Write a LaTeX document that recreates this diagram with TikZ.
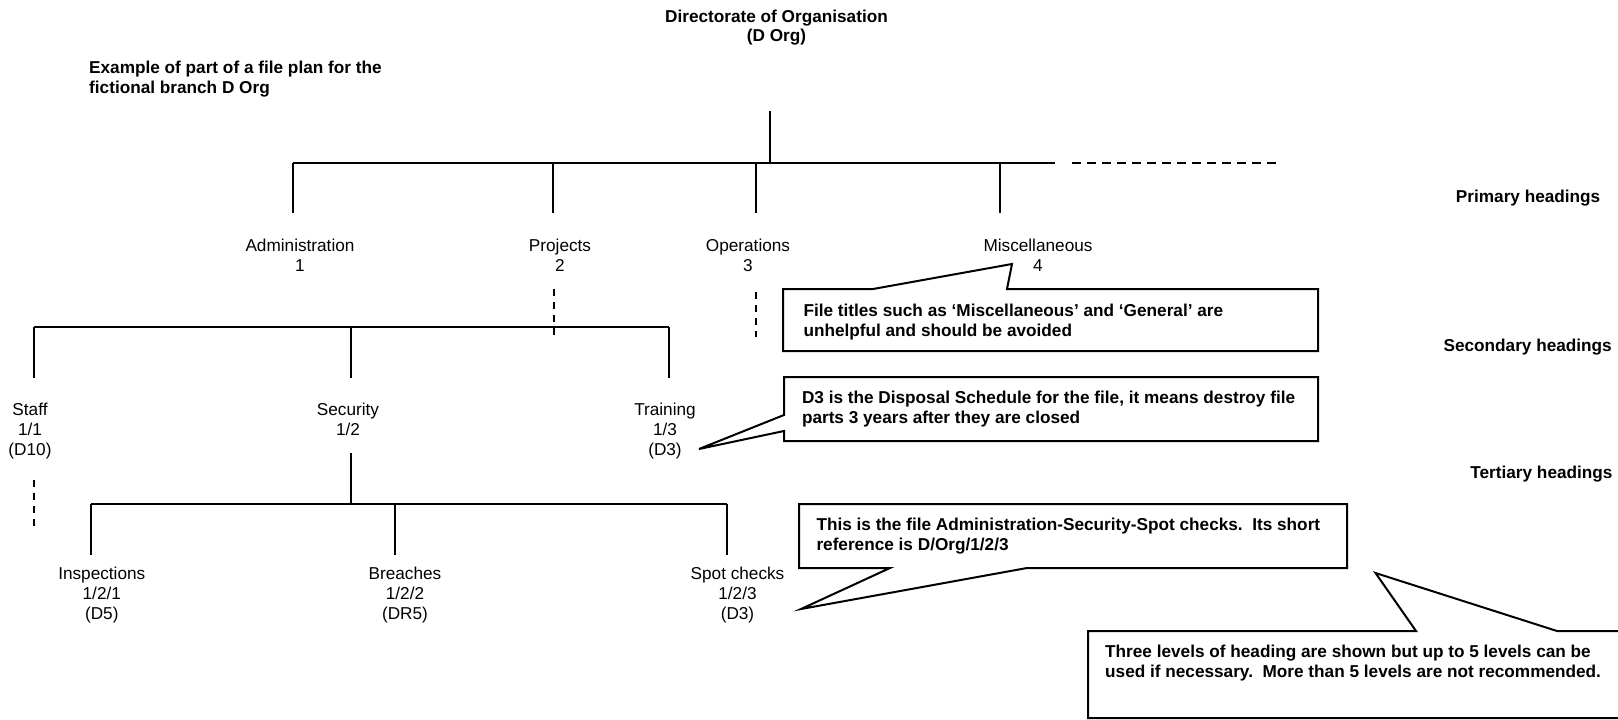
\documentclass[tikz,border=0pt]{standalone}
\usepackage{fontspec}
\setmainfont{Liberation Sans}
\newcommand\fs{\fontsize{17.2}{20}\selectfont}
\newcommand\txtblock[2]{\begin{tabular}[t]{@{}#1@{}}#2\end{tabular}}
\tikzset{
  tree/.style={line width=2pt},
  hdash/.style={line width=2pt, dash pattern=on 9pt off 6pt},
  vdash/.style={line width=2pt, dash pattern=on 6.5pt off 6.5pt},
  lbl/.style={inner sep=0pt, anchor=base, font=\fs},
  note/.style={inner sep=0pt, anchor=base west, font=\fs\bfseries},
  levelname/.style={inner sep=0pt, anchor=base east, font=\fs\bfseries},
  callout/.style={draw, line width=2pt, fill=white, line join=miter},
}
\begin{document}
\begin{tikzpicture}[x=1pt, y=-1pt]
\useasboundingbox (0,0) rectangle (1618,720);
\clip (0,0) rectangle (1618,720);

% ---------- headings ----------
\node[lbl, font=\fs\bfseries] (root) at (776.5,22) {\txtblock{c}{Directorate of Organisation\\(D Org)}};
\node[note] (intro) at (89,73.7) {\txtblock{l}{Example of part of a file plan for the\\fictional branch D Org}};

\node[levelname] (lvl1) at (1600.5,202) {Primary headings};
\node[levelname] (lvl2) at (1612,351.7) {Secondary headings};
\node[levelname] (lvl3) at (1612.7,478) {Tertiary headings};

% ---------- primary level ----------
\coordinate (rootstem) at (770,111);
\coordinate (bar1) at (770,163);
\coordinate (bar1L) at (293,163);
\coordinate (bar1R) at (1055,163);
\coordinate (more1a) at (1072,163);
\coordinate (more1b) at (1277,163);
\draw[tree] (rootstem) -- (bar1);
\draw[tree] (bar1L) -- (bar1R);
\draw[hdash] (more1a) -- (more1b);

\node[lbl] (adm) at (300,251) {\txtblock{c}{Administration\\1}};
\node[lbl] (prj) at (560,251) {\txtblock{c}{Projects\\2}};
\node[lbl] (ops) at (748,251) {\txtblock{c}{Operations\\3}};
\node[lbl] (misc) at (1038,251) {\txtblock{c}{Miscellaneous\\4}};

\foreach \x/\n in {293/a,553/b,756/c,1000/d}{
  \coordinate (p\n top) at (\x,163);
  \coordinate (p\n bot) at (\x,213);
  \draw[tree] (p\n top) -- (p\n bot);
}

% continuation of Projects and Operations
\coordinate (prjA) at (554,289);
\coordinate (prjB) at (554,337);
\coordinate (opsA) at (756,292);
\coordinate (opsB) at (756,337);
\draw[vdash] (prjA) -- (prjB);
\draw[vdash] (opsA) -- (opsB);

% ---------- secondary level ----------
\coordinate (bar2L) at (34,327);
\coordinate (bar2R) at (669,327);
\draw[tree] (bar2L) -- (bar2R);
\foreach \x/\n in {34/a,351/b,669/c}{
  \coordinate (s\n top) at (\x,327);
  \coordinate (s\n bot) at (\x,378);
  \draw[tree] (s\n top) -- (s\n bot);
}

\node[lbl] (staff) at (30,415) {\txtblock{c}{Staff\\1/1\\(D10)}};
\node[lbl] (sec) at (348,415) {\txtblock{c}{Security\\1/2}};
\node[lbl] (trn) at (665,415) {\txtblock{c}{Training\\1/3\\(D3)}};

\coordinate (staffA) at (34,480);
\coordinate (staffB) at (34,528);
\draw[vdash] (staffA) -- (staffB);

% ---------- tertiary level ----------
\coordinate (secstem) at (351,453);
\coordinate (bar3) at (351,504);
\coordinate (bar3L) at (91,504);
\coordinate (bar3R) at (727,504);
\draw[tree] (secstem) -- (bar3);
\draw[tree] (bar3L) -- (bar3R);
\foreach \x/\n in {91/a,395/b,727/c}{
  \coordinate (t\n top) at (\x,504);
  \coordinate (t\n bot) at (\x,555);
  \draw[tree] (t\n top) -- (t\n bot);
}

\node[lbl] (insp) at (101.8,579) {\txtblock{c}{Inspections\\1/2/1\\(D5)}};
\node[lbl] (brch) at (405,579) {\txtblock{c}{Breaches\\1/2/2\\(DR5)}};
\node[lbl] (spot) at (737.5,579) {\txtblock{c}{Spot checks\\1/2/3\\(D3)}};

% ---------- callouts ----------
\coordinate (c1tip) at (1012,264);
\draw[callout] (783,289) -- (873,289) -- (c1tip) -- (1007,289)
  -- (1318,289) -- (1318,351) -- (783,351) -- cycle;
\node[note] (c1) at (803.3,316) {\txtblock{l}{File titles such as ‘Miscellaneous’ and ‘General’ are\\unhelpful and should be avoided}};

\coordinate (c2tip) at (699,449);
\draw[callout] (784,377) -- (1318,377) -- (1318,441) -- (784,441)
  -- (784,431) -- (c2tip) -- (784,415) -- cycle;
\node[note] (c2) at (801.8,403.7) {\txtblock{l}{D3 is the Disposal Schedule for the file, it means destroy file\\parts 3 years after they are closed}};

\coordinate (c3tip) at (801,609);
\draw[callout] (799,504) -- (1347,504) -- (1347,568) -- (1027,568)
  -- (c3tip) -- (890,568) -- (799,568) -- cycle;
\node[note] (c3) at (816.3,530) {\txtblock{l}{This is the file Administration-Security-Spot checks.\ \ Its short\\reference is D/Org/1/2/3}};

\coordinate (c4tip) at (1375.5,573);
\draw[callout] (1088,631) -- (1416,631) -- (c4tip) -- (1557,631)
  -- (1650,631) -- (1650,718) -- (1088,718) -- cycle;
\node[note] (c4) at (1105,657) {\txtblock{l}{Three levels of heading are shown but up to 5 levels can be\\used if necessary.\ \ More than 5 levels are not recommended.}};
\end{tikzpicture}
\end{document}
